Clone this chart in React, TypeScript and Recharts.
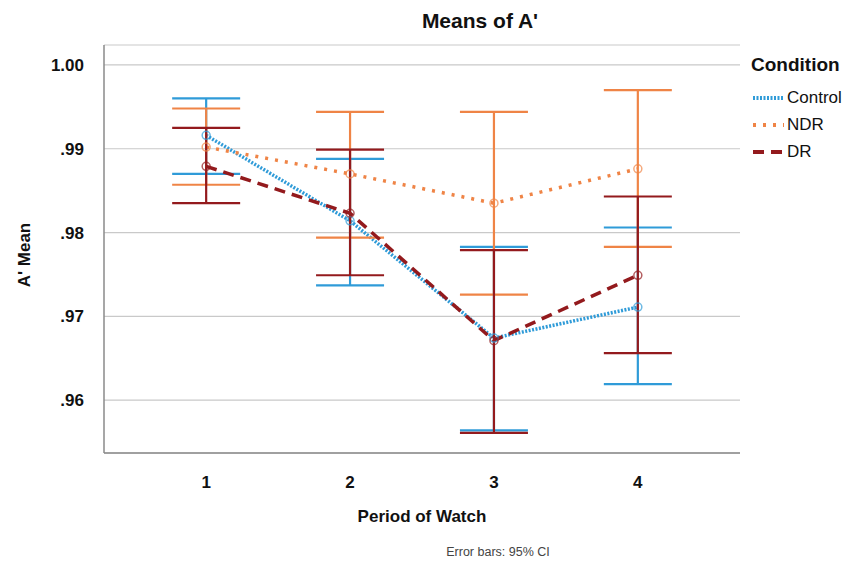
import React from 'react'
import {
  LineChart,
  Line,
  XAxis,
  YAxis,
  CartesianGrid,
  ErrorBar,
} from 'recharts'

const periods = [1, 2, 3, 4]
const yTicks = [0.96, 0.97, 0.98, 0.99, 1.0]

const controlMean = [0.9916, 0.9814, 0.9674, 0.9711]
const controlLow = [0.987, 0.9737, 0.9564, 0.9619]
const controlHigh = [0.996, 0.9888, 0.9783, 0.9806]

const ndrMean = [0.9902, 0.987, 0.9835, 0.9876]
const ndrLow = [0.9857, 0.9794, 0.9726, 0.9783]
const ndrHigh = [0.9948, 0.9944, 0.9944, 0.997]

const drMean = [0.9879, 0.9823, 0.9671, 0.9749]
const drLow = [0.9835, 0.9749, 0.9561, 0.9656]
const drHigh = [0.9925, 0.9899, 0.9779, 0.9843]

const series = [
  { key: 'control', name: 'Control', color: '#2f9bd8', dash: '2 1.5', width: 3.5 },
  { key: 'ndr', name: 'NDR', color: '#ef8446', dash: '3 7', width: 3.5 },
  { key: 'dr', name: 'DR', color: '#931a1d', dash: '11 7', width: 3.5 },
]

const data = periods.map((p, i) => ({
  period: p,
  control: controlMean[i],
  controlErr: [controlMean[i] - controlLow[i], controlHigh[i] - controlMean[i]],
  ndr: ndrMean[i],
  ndrErr: [ndrMean[i] - ndrLow[i], ndrHigh[i] - ndrMean[i]],
  dr: drMean[i],
  drErr: [drMean[i] - drLow[i], drHigh[i] - drMean[i]],
}))

const font = 'Arial, "Liberation Sans", sans-serif'

function LegendBox() {
  return (
    <div style={{ position: 'absolute', left: 751, top: 54, width: 115, fontFamily: font, color: '#111' }}>
      <div style={{ fontSize: 19, fontWeight: 'bold', marginBottom: 8 }}>Condition</div>
      {series.map((s) => (
        <div key={s.key} style={{ display: 'flex', alignItems: 'center', height: 27, fontSize: 17 }}>
          <svg width={34} height={10} style={{ marginRight: 2 }}>
            <line x1={2} y1={5} x2={33} y2={5} stroke={s.color} strokeWidth={4} strokeDasharray={s.dash} />
          </svg>
          <span>{s.name}</span>
        </div>
      ))}
    </div>
  )
}

export default function App() {
  return (
    <div style={{ position: 'absolute', left: 0, top: 0, width: 866, height: 567, background: '#fff', fontFamily: font }}>
      <LineChart
        width={866}
        height={567}
        data={data}
        margin={{ top: 45, right: 126, bottom: 84, left: 0 }}
        style={{ position: 'absolute', left: 0, top: 0 }}
      >
        <CartesianGrid vertical={false} stroke="#c9c9c9" strokeWidth={1.2} />
        <XAxis
          dataKey="period"
          type="number"
          height={30}
          domain={[0.29, 4.71]}
          ticks={periods}
          allowDataOverflow
          axisLine={{ stroke: '#8a8a8a', strokeWidth: 1.5 }}
          tickLine={false}
          tickMargin={17}
          tick={{ fontSize: 17, fontWeight: 'bold', fill: '#111', fontFamily: font }}
        />
        <YAxis
          type="number"
          width={104}
          domain={[0.95369, 1.00238]}
          ticks={yTicks}
          allowDataOverflow
          axisLine={{ stroke: '#8a8a8a', strokeWidth: 1.5 }}
          tickLine={false}
          tickMargin={14}
          tickFormatter={(v: number) => (v >= 1 ? '1.00' : v.toFixed(2).replace(/^0/, ''))}
          tick={{ fontSize: 17, fontWeight: 'bold', fill: '#111', fontFamily: font }}
        />
        {series.map((s) => (
          <Line
            key={s.key}
            dataKey={s.key}
            name={s.name}
            stroke={s.color}
            strokeWidth={s.width}
            strokeDasharray={s.dash}
            isAnimationActive={false}
            dot={{ r: 4, stroke: s.color, strokeOpacity: 0.7, strokeWidth: 1.5, fill: 'none', strokeDasharray: '' }}
            activeDot={false}
          >
            <ErrorBar dataKey={`${s.key}Err`} width={34} stroke={s.color} strokeWidth={2.2} direction="y" />
          </Line>
        ))}
      </LineChart>
      <div style={{ position: 'absolute', left: 0, width: 960, top: 9, textAlign: 'center', fontSize: 21, fontWeight: 'bold', color: '#111' }}>
        Means of A'
      </div>
      <div
        style={{
          position: 'absolute',
          left: 25,
          top: 255,
          transform: 'translate(-50%, -50%) rotate(-90deg)',
          fontSize: 17,
          fontWeight: 'bold',
          whiteSpace: 'nowrap',
          color: '#111',
        }}
      >
        A' Mean
      </div>
      <div style={{ position: 'absolute', left: 104, width: 636, top: 507, textAlign: 'center', fontSize: 17, fontWeight: 'bold', color: '#111' }}>
        Period of Watch
      </div>
      <div style={{ position: 'absolute', left: 0, width: 996, top: 545, textAlign: 'center', fontSize: 12.5, color: '#444' }}>
        Error bars: 95% CI
      </div>
      <LegendBox />
    </div>
  )
}
